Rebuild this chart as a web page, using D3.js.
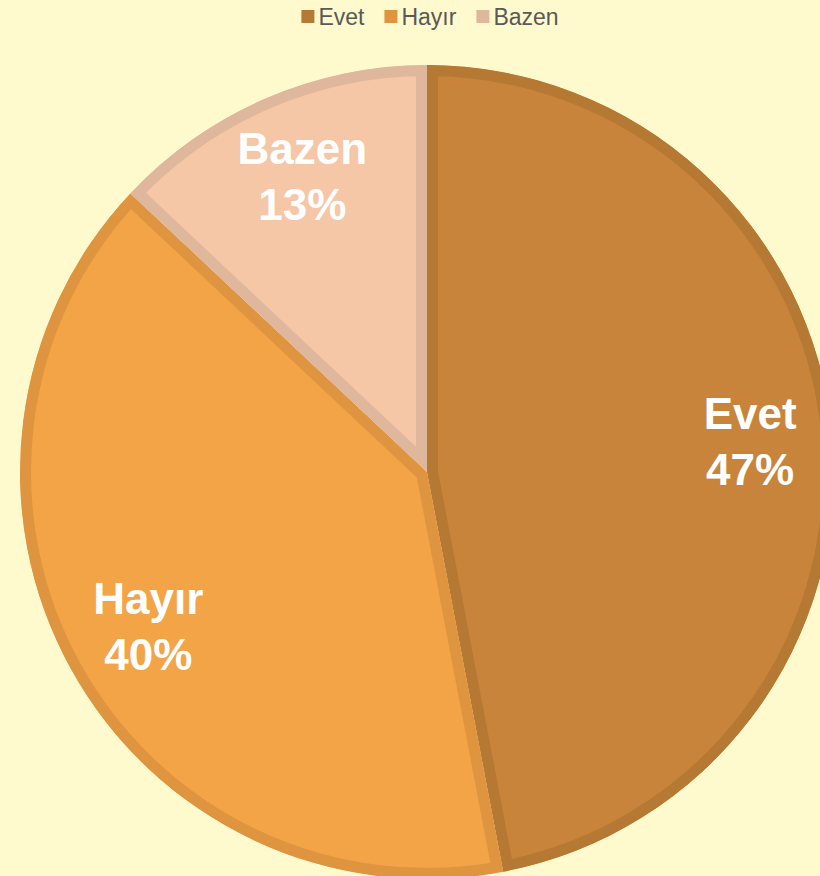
<!DOCTYPE html>
<html>
<head>
<meta charset="utf-8">
<script src="https://cdn.jsdelivr.net/npm/d3@7"></script>
<style>
  html, body { margin: 0; padding: 0; background: #FFFACD; }
  svg { display: block; }
</style>
</head>
<body>
<svg id="chart"></svg>
<script>
// chart data
const categories = ["Evet", "Hayır", "Bazen"];
const values = [47, 40, 13];
const fillColors = ["#C8843A", "#F2A446", "#F5C7A6"];
const edgeColors = ["#B67934", "#DF9440", "#DFB79D"];

const width = 820, height = 876;
const cx = 427, cy = 472, radius = 407;

const svg = d3.select("#chart").attr("width", width).attr("height", height);

svg.append("rect").attr("width", width).attr("height", height).attr("fill", "#FFFACD");

const data = categories.map((c, i) => ({ name: c, value: values[i], i }));
const total = d3.sum(values);

const pie = d3.pie().sort(null).value(d => d.value);
const arc = d3.arc().innerRadius(0).outerRadius(radius);
const labelArc = d3.arc().innerRadius(radius * 0.79).outerRadius(radius * 0.79);

const g = svg.append("g").attr("transform", `translate(${cx}, ${cy})`);
const defs = svg.append("defs");

const arcs = pie(data);

// clip each slice to itself so the border sits inside
arcs.forEach((a, i) => {
  defs.append("clipPath").attr("id", "clip" + i)
    .append("path").attr("d", arc(a));
});

g.selectAll(".slice")
  .data(arcs)
  .enter()
  .append("path")
  .attr("class", "slice")
  .attr("d", arc)
  .attr("clip-path", (d, i) => `url(#clip${i})`)
  .attr("fill", (d, i) => fillColors[i])
  .attr("stroke", (d, i) => edgeColors[i])
  .attr("stroke-width", 22)
  .attr("stroke-linejoin", "miter");

// labels
const labels = g.selectAll(".label")
  .data(arcs)
  .enter()
  .append("text")
  .attr("class", "label")
  .attr("text-anchor", "middle")
  .style("font-family", "Arial, 'Liberation Sans', sans-serif")
  .style("font-weight", "bold")
  .style("font-size", "44px")
  .style("fill", "#FFFFFF");

labels.each(function (d) {
  const [x, y] = labelArc.centroid(d);
  const t = d3.select(this);
  t.append("tspan").attr("x", x + 3).attr("y", y - 13).text(d.data.name);
  t.append("tspan").attr("x", x + 3).attr("y", y + 43)
    .text(Math.round(d.data.value / total * 100) + "%");
});

// legend
const legend = svg.append("g").attr("class", "legend");
let lx = 0;
categories.forEach((c, i) => {
  const item = legend.append("g").attr("transform", `translate(${lx}, 0)`);
  item.append("rect")
    .attr("x", 0).attr("y", 10)
    .attr("width", 13).attr("height", 13)
    .attr("fill", edgeColors[i]);
  const txt = item.append("text")
    .attr("x", 17).attr("y", 25)
    .style("font-family", "Arial, 'Liberation Sans', sans-serif")
    .style("font-size", "23px")
    .style("fill", "#595959")
    .text(c);
  lx += 17 + txt.node().getComputedTextLength() + 20;
});
const legendWidth = lx - 20;
legend.attr("transform", `translate(${430 - legendWidth / 2}, 0)`);
</script>
</body>
</html>
